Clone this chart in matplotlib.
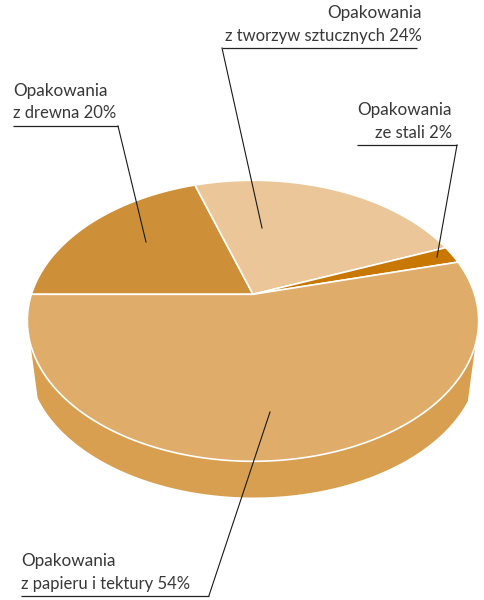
import numpy as np
import matplotlib
matplotlib.use("Agg")
import matplotlib.pyplot as plt
from matplotlib.patches import Polygon

categories = ["z papieru i tektury", "z drewna", "z tworzyw sztucznych", "ze stali"]
shares = [54, 20, 24, 2]
slice_colors = ["#DFAC6A", "#CD9038", "#EAC698", "#C87800"]
wall_color = "#D89F50"
heading = "Opakowania"

W, H = 484, 600
plt.rcParams["font.family"] = ["Lato", "DejaVu Sans"]
fig = plt.figure(figsize=(W / 100, H / 100), dpi=100)
ax = fig.add_axes([0, 0, 1, 1])
ax.set_xlim(0, W)
ax.set_ylim(H, 0)
ax.axis("off")

# perspective view of a flat disc: apex of the slices sits above the ellipse centre
X0, Y0 = 253.0, 294.3
A, B, K = 221.6, 135.5, 0.1886


def project(theta):
    u, v = np.cos(theta), np.sin(theta)
    d = 1 + K * v
    return X0 + A * u / d, Y0 - B * v / d


# side wall
t = np.linspace(0, 2 * np.pi, 721)
top_x, top_y = project(t)
left_i, right_i = np.argmin(top_x), np.argmax(top_x)
cx, r_x, r_y, cy = 253.5, 225.5, 140.0, 357.5
a = np.linspace(np.arcsin((398 - cy) / r_y), np.pi - np.arcsin((401 - cy) / r_y), 300)
bx = cx - r_x * np.cos(a)
by = cy + r_y * np.sin(a)
wall = np.vstack([[top_x[left_i], top_y[left_i]], np.column_stack([bx, by]),
                  [top_x[right_i], top_y[right_i]]])
ax.add_patch(Polygon(wall, closed=True, fc=wall_color, ec="none", zorder=1))

# slices: clockwise from the left-hand horizontal radius
start = np.pi
for i in [1, 2, 3, 0]:
    sweep = 2 * np.pi * shares[i] / sum(shares)
    th = np.linspace(start, start - sweep, max(int(shares[i] * 8), 16))
    px, py = project(th)
    pts = np.vstack([[X0, Y0], np.column_stack([px, py])])
    ax.add_patch(Polygon(pts, closed=True, fc=slice_colors[i], ec="white", lw=1.2,
                         joinstyle="round", zorder=2))
    start -= sweep

INK = "#383838"
callouts = [
    (1, (13, 126), (118, 126), (146, 242), 13, "left", 91),
    (2, (417, 48), (222, 48), (262, 228), 422, "right", 13),
    (3, (357, 145), (457, 145), (437, 257), 452, "right", 110),
    (0, (21, 595.5), (209, 595.5), (270, 412), 21, "left", 561),
]
for idx, s, e, tip, tx, ha, ty in callouts:
    ax.plot([s[0], e[0]], [s[1], e[1]], color="#222222", lw=0.9, zorder=3,
            solid_capstyle="butt")
    ax.plot([e[0], tip[0]], [e[1], tip[1]], color="#1a1a1a", lw=0.8, zorder=3)
    ax.text(tx, ty, heading, ha=ha, va="center", fontsize=12.3, color=INK, zorder=4)
    ax.text(tx, ty + 22.5, f"{categories[idx]} {shares[idx]}%", ha=ha, va="center",
            fontsize=12.0, color=INK, zorder=4)

fig.savefig("out.png", dpi=100, facecolor="white")
